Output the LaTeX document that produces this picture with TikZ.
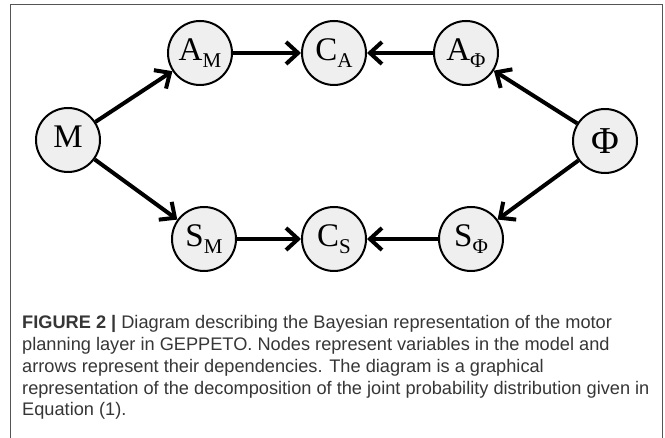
\documentclass[tikz,border=0pt]{standalone}
\usepackage{fontspec}
\setmainfont{Liberation Serif}
\newfontfamily\capfont{Liberation Sans}
\usetikzlibrary{arrows.meta}
\definecolor{nodefill}{HTML}{EFEFEF}
\definecolor{framecol}{HTML}{555555}
\definecolor{captext}{HTML}{363636}
\newcommand{\vlab}[2]{{\fontsize{33}{33}\selectfont #1}\raisebox{-7pt}{\fontsize{21}{21}\selectfont #2}}
\begin{document}
\begin{tikzpicture}[x=1pt,y=-1pt,
  var/.style={circle, draw=black, line width=2pt, fill=nodefill, minimum size=64pt, inner sep=0pt},
  dep/.style={line width=4pt, -{Straight Barb[length=12pt,width=22pt]}},
  capline/.style={anchor=base west, inner sep=0pt, text=captext, font=\capfont\fontsize{18.2}{21.7}\selectfont}]
\useasboundingbox (0,0) rectangle (665,438);
\fill[white] (0,0) rectangle (665,438);
\draw[framecol, line width=1.5pt] (10.5,438) -- (10.5,4.5) -- (662.5,4.5) -- (662.5,438);

\node[var] (M)  at (68,140)  {\vlab{M}{}};
\node[var] (AM) at (200,53)  {\vlab{A}{M}};
\node[var] (CA) at (334,53)  {\vlab{C}{A}};
\node[var] (AF) at (466,53)  {\vlab{A}{Φ}};
\node[var] (F)  at (605,141) {{\fontsize{38}{38}\selectfont Φ}};
\node[var] (SM) at (204,239) {\vlab{S}{M}};
\node[var] (CS) at (334,239) {\vlab{C}{S}};
\node[var] (SF) at (471,239) {\vlab{S}{Φ}};

\draw[dep] (M) -- (AM);
\draw[dep] (M) -- (SM);
\draw[dep] (AM) -- (CA);
\draw[dep] (AF) -- (CA);
\draw[dep] (F) -- (AF);
\draw[dep] (F) -- (SF);
\draw[dep] (SM) -- (CS);
\draw[dep] (SF) -- (CS);

\node[capline] (c1) at (22,329) {\textbf{FIGURE 2 |} Diagram describing the Bayesian representation of the motor};
\node[capline] (c2) at (22,350.7) {planning layer in GEPPETO. Nodes represent variables in the model and};
\node[capline] (c3) at (22,372.4) {arrows represent their dependencies. The diagram is a graphical};
\node[capline] (c4) at (22,394.1) {representation of the decomposition of the joint probability distribution given in};
\node[capline] (c5) at (22,415.8) {Equation (1).};
\end{tikzpicture}
\end{document}
